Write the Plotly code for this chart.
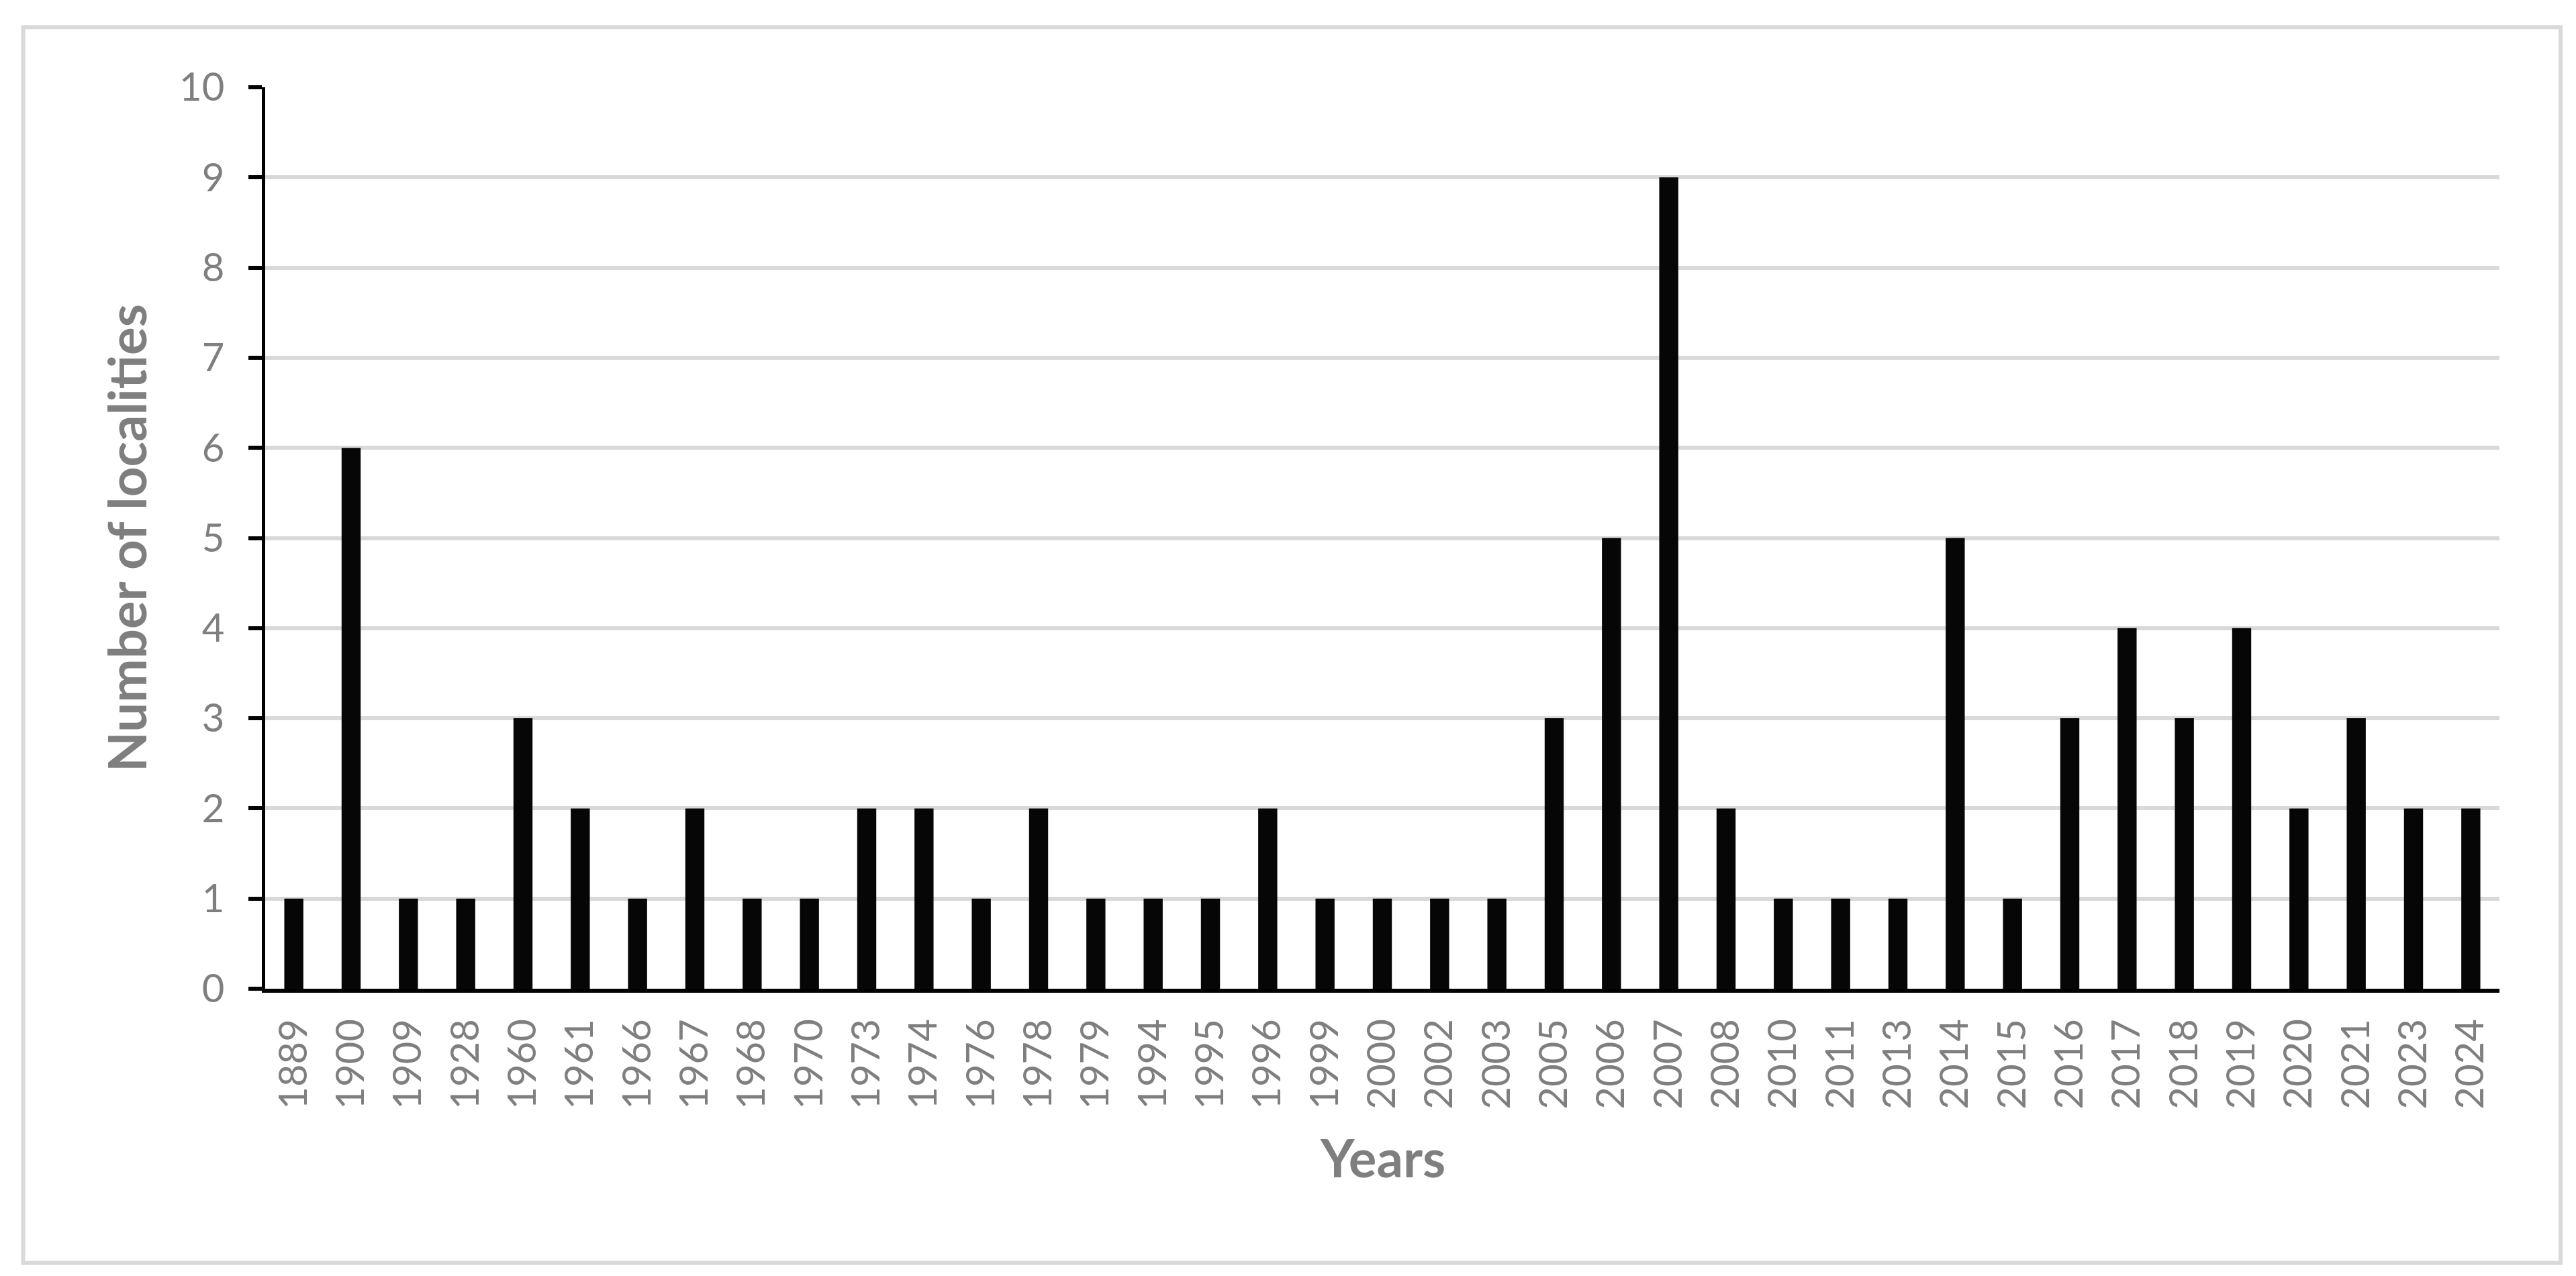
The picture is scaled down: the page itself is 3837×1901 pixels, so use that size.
import plotly.graph_objects as go

years = ["1889", "1900", "1909", "1928", "1960", "1961", "1966", "1967", "1968", "1970",
         "1973", "1974", "1976", "1978", "1979", "1994", "1995", "1996", "1999", "2000",
         "2002", "2003", "2005", "2006", "2007", "2008", "2010", "2011", "2013", "2014",
         "2015", "2016", "2017", "2018", "2019", "2020", "2021", "2023", "2024"]
localities = [1, 6, 1, 1, 3, 2, 1, 2, 1, 1,
              2, 2, 1, 2, 1, 1, 1, 2, 1, 1,
              1, 1, 3, 5, 9, 2, 1, 1, 1, 5,
              1, 3, 4, 3, 4, 2, 3, 2, 2]
y_ticks = list(range(0, 11))
x_title = "Years"
y_title = "Number of localities"

W, H = 3837, 1901
L, R, T, B = 387, 122, 122, 436
pw, ph = W - L - R, H - T - B


def px_x(x):
    return (x - L) / pw


def px_y(y):
    return (H - B - y) / ph


FONT = "Lato"
GRAY = "#7f7f7f"

fig = go.Figure(go.Bar(x=years, y=localities, marker_color="#060606",
                       marker_line_width=0, width=0.333))

fig.update_layout(
    width=W, height=H,
    margin=dict(l=L, r=R, t=T, b=B, autoexpand=False),
    paper_bgcolor="white", plot_bgcolor="white",
    showlegend=False,
    font=dict(family=FONT, color=GRAY),
    shapes=[dict(type="rect", xref="paper", yref="paper",
                 x0=px_x(26.5), x1=px_x(3806), y0=px_y(1873.5), y1=px_y(32.5),
                 line=dict(color="#d9d9d9", width=6), layer="below")],
    annotations=[
        dict(text="<b>" + x_title + "</b>", xref="paper", yref="paper",
             x=px_x(2051), y=px_y(1716), xanchor="center", yanchor="middle",
             showarrow=False, font=dict(family=FONT, size=78, color=GRAY)),
        dict(text="<b>" + y_title + "</b>", xref="paper", yref="paper",
             x=px_x(180), y=px_y(794), xanchor="center", yanchor="middle",
             textangle=-90, showarrow=False,
             font=dict(family=FONT, size=78, color=GRAY)),
    ],
)

fig.update_xaxes(
    type="category",
    tickangle=-90,
    tickfont=dict(family=FONT, size=58, color=GRAY),
    showline=True, linecolor="black", linewidth=6,
    ticks="", showgrid=False,
    ticklabelstandoff=16,
)
fig.update_yaxes(
    range=[0, 10], tickvals=y_ticks,
    tickfont=dict(family=FONT, size=58, color=GRAY),
    showline=True, linecolor="black", linewidth=5,
    ticks="outside", ticklen=20, tickwidth=6, tickcolor="black",
    showgrid=True, gridcolor="#d9d9d9", gridwidth=6,
    zeroline=False,
    ticklabelstandoff=24,
)

fig.write_html("out.html")
